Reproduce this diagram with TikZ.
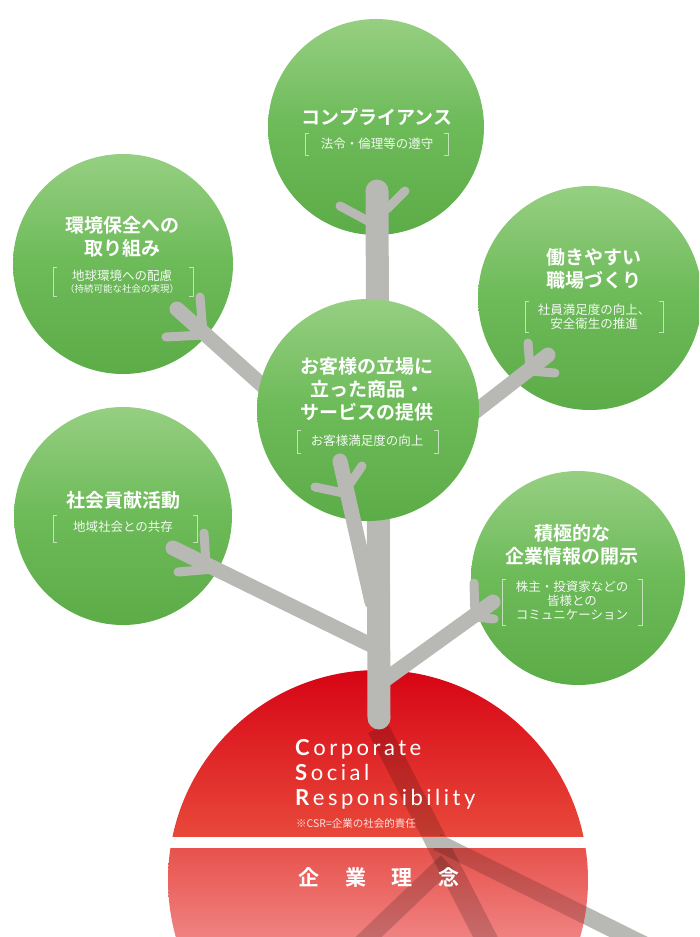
\documentclass[tikz,border=0pt]{standalone}
\usepackage{fontspec}
\newfontfamily\jp{Noto Sans CJK JP}[BoldFont={Noto Sans CJK JP Bold}]
\newfontfamily\latn{Lato}[LetterSpace=16]
\definecolor{leafTop}{RGB}{150,207,130}
\definecolor{leafMid}{RGB}{108,186,88}
\definecolor{leafBot}{RGB}{92,172,72}
\definecolor{wood}{RGB}{184,184,181}
\definecolor{redTop}{RGB}{214,0,18}
\definecolor{redBot}{RGB}{232,72,58}
\definecolor{pinkTop}{RGB}{231,82,76}
\definecolor{pinkBot}{RGB}{240,134,134}
\newcommand\bracketpair[4]{%
  \draw[brk] (#1+4,#3) -- (#1,#3) -- (#1,#4) -- (#1+4,#4);
  \draw[brk] (#2-4,#3) -- (#2,#3) -- (#2,#4) -- (#2-4,#4);}
\tikzset{
  leaf/.style={circle, inner sep=0pt, draw=none, top color=leafTop, bottom color=leafBot, middle color=leafMid},
  limb/.style={draw=wood, line cap=round, line width=15pt},
  twig/.style={draw=wood, line cap=round, line width=9pt},
  trunkline/.style={draw=wood, line cap=round, line width=23pt},
  ttl/.style={text=white, font=\jp\bfseries\fontsize{19}{23}\selectfont, align=center, inner sep=0pt},
  subt/.style={text=white, text opacity=0.92, font=\jp\fontsize{12.5}{14}\selectfont, align=center, inner sep=0pt},
  brk/.style={draw=white, draw opacity=0.6, line width=0.8pt},
}
\begin{document}
\begin{tikzpicture}[x=1pt,y=-1pt]
\useasboundingbox (0,0) rectangle (699,937);
\clip (0,0) rectangle (699,937);

% ---------- roots (under the red) ----------
\coordinate (r0) at (378,728);
\coordinate (r1) at (492,950);
\coordinate (ra) at (437,842);
\coordinate (rb) at (665,955);
\coordinate (rc) at (447,862);
\coordinate (rd) at (355,950);
\draw[draw=wood, line width=22pt] (r0) -- (r1);
\draw[draw=wood, line width=17pt] (ra) -- (rb);
\draw[draw=wood, line width=18pt] (rc) -- (rd);

% ---------- red base ----------
\begin{scope}
  \clip (378,880) circle [radius=210pt];
  \shade[top color=redTop, bottom color=redBot] (150,660) rectangle (620,836);
  \shade[top color=pinkTop, bottom color=pinkBot] (150,848) rectangle (620,945);
\end{scope}
\begin{scope}
  \clip (378,880) circle [radius=210pt];
  \clip (150,660) rectangle (620,836) (150,848) rectangle (620,945);
  \draw[draw=black, draw opacity=0.17, line width=22pt] (r0) -- (r1);
  \draw[draw=black, draw opacity=0.17, line width=17pt] (ra) -- (rb);
  \draw[draw=black, draw opacity=0.17, line width=18pt] (rc) -- (rd);
\end{scope}

% ---------- outer leaves ----------
\node[leaf, minimum size=216pt] (comp) at (376,127) {};
\node[leaf, minimum size=220pt] (env)  at (123,264) {};
\node[leaf, minimum size=224pt] (work) at (590,298) {};
\node[leaf, minimum size=218pt] (soc)  at (123,516) {};
\node[leaf, minimum size=214pt] (info) at (578,578) {};

% ---------- trunk and limbs ----------
\coordinate (tTop) at (377,191);
\coordinate (tBot) at (379,718);
\coordinate (jMid) at (377,488);
\coordinate (jSoc) at (377,648);
\coordinate (jInfo) at (379,684);
\coordinate (eEnv) at (177,309);
\coordinate (eWork) at (548,355);
\coordinate (eSoc) at (173,548);
\coordinate (eInfo) at (493,602);
\draw[limb] (jMid) -- (eEnv);
\draw[limb] (jMid) -- (eWork);
\draw[limb] (jSoc) -- (eSoc);
\draw[limb] (jInfo) -- (eInfo);
\draw[trunkline] (tTop) -- (tBot);
% twigs
\draw[twig] (368,221) -- (340,206);
\draw[twig] (387,209) -- (405,191);
\draw[twig] (203,333) -- (200,297);
\draw[twig] (203,335) -- (166,337);
\draw[twig] (530,369) -- (528,343);
\draw[twig] (530,371) -- (555,373);
\draw[twig] (206,564) -- (204,533);
\draw[twig] (214,569) -- (178,572);
\draw[twig] (475,615) -- (474,583);
\draw[twig] (476,617) -- (494,619);

% ---------- central leaf ----------
\node[leaf, minimum size=222pt] (mid) at (368,410) {};
\coordinate (eMid) at (340,461);
\coordinate (jMid2) at (372,602);
\draw[limb] (jMid2) -- (eMid);
\draw[twig] (348,494) -- (315,487);
\draw[twig] (349,485) -- (362,466);

% ---------- leaf texts ----------
\node[ttl] (compT) at (377,117) {コンプライアンス};
\node[subt] (compS) at (377,144) {法令・倫理等の遵守};
\bracketpair{305}{448}{133}{155}

\node[ttl] (envT) at (122,237) {環境保全への\\取り組み};
\node[subt] (envS) at (122,282) {地球環境への配慮\\[-2pt]{\fontsize{9.5}{11}\selectfont （持続可能な社会の実現）}};
\bracketpair{53}{193}{267}{296}

\node[ttl] (workT) at (594,269) {働きやすい\\職場づくり};
\node[subt] (workS) at (594,317) {社員満足度の向上、\\安全衛生の推進};
\bracketpair{525}{663}{301}{332}

\node[ttl] (midT) at (367,389) {お客様の立場に\\立った商品・\\サービスの提供};
\node[subt] (midS) at (367,441) {お客様満足度の向上};
\bracketpair{297}{438}{430}{453}

\node[ttl] (socT) at (123,500) {社会貢献活動};
\node[subt] (socS) at (123,527) {地域社会との共存};
\bracketpair{53}{197}{515}{542}

\node[ttl] (infoT) at (572,545) {積極的な\\企業情報の開示};
\node[subt] (infoS) at (572,601) {株主・投資家などの\\皆様との\\コミュニケーション};
\bracketpair{502}{642}{579}{625}

% ---------- red base texts ----------
\node[anchor=base west, inner sep=0pt, text=white, font=\latn\fontsize{22}{25}\selectfont] (csrC) at (295,755) {\textbf{C}orporate};
\node[anchor=base west, inner sep=0pt, text=white, font=\latn\fontsize{22}{25}\selectfont] (csrS) at (295,780) {\textbf{S}ocial};
\node[anchor=base west, inner sep=0pt, text=white, font=\latn\fontsize{22}{25}\selectfont] (csrR) at (295,805) {\textbf{R}esponsibility};
\node[anchor=base west, inner sep=0pt, text=white, text opacity=0.85, font=\jp\fontsize{10.5}{12}\selectfont] (csrN) at (296,827) {※CSR=企業の社会的責任};
\node[inner sep=0pt, text=white, font=\jp\bfseries\fontsize{21}{24}\selectfont] (rinen) at (379,877) {企\hspace{26pt}業\hspace{26pt}理\hspace{26pt}念};
\end{tikzpicture}
\end{document}
